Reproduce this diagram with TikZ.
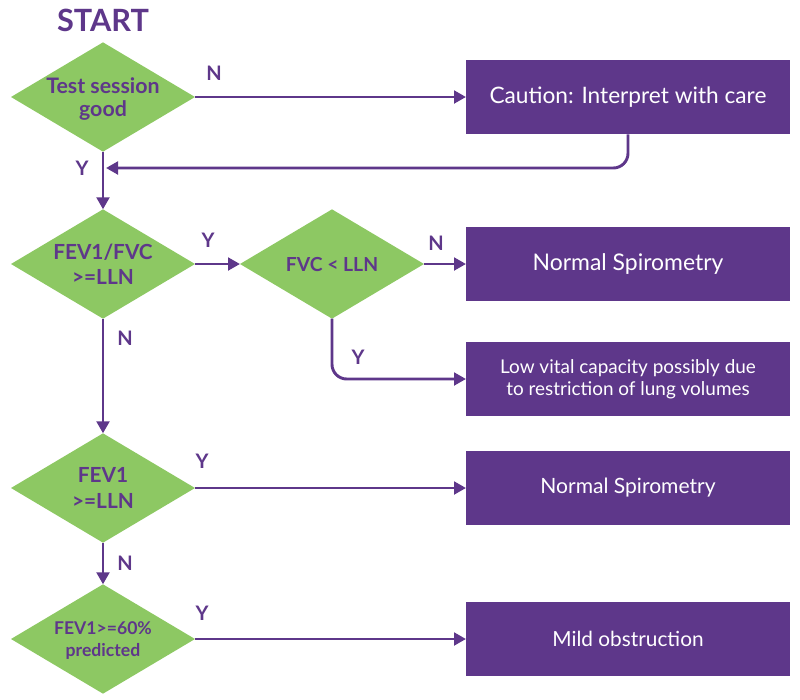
\documentclass[tikz,border=0pt]{standalone}
\usepackage{fontspec}
\setmainfont{Lato}
\usetikzlibrary{arrows.meta,shapes.geometric}
\definecolor{spiropurple}{HTML}{5E378A}
\definecolor{spirogreen}{HTML}{8DC863}
\tikzset{
    question/.style={diamond,aspect=1.69,fill=spirogreen,text=spiropurple,font=\bfseries\fontsize{16}{17.5}\selectfont,
        align=center,inner sep=0pt,outer sep=0pt,text depth=0pt,minimum width=138pt,minimum height=82pt},
    outcome/.style={rectangle,fill=spiropurple,text=white,font=\fontsize{17}{17}\selectfont,
        align=center,inner sep=0pt,outer sep=0pt,minimum width=243pt,minimum height=56pt},
    yn/.style={text=spiropurple,font=\bfseries\fontsize{15}{15}\selectfont},
    flow/.style={draw=spiropurple,line width=2.2pt,-{Triangle[length=9pt,width=9.5pt]}}
}

\begin{document}
\begin{tikzpicture}[x=0.75pt,y=-0.75pt]
    \useasboundingbox (0,0) rectangle (800,700);
    \node[text=spiropurple,font=\bfseries\fontsize{23}{23}\selectfont] (start) at (103,20) {START};
    \node[question] (session) at (103,97) {Test session\\good};
    \node[outcome] (caution) at (628,97) {Caution: Interpret with care};
    \node[question,font=\bfseries\fontsize{15.6}{19}\selectfont] (ratio) at (103,264) {FEV1/FVC\\>=LLN};
    \node[question,font=\bfseries\fontsize{14.5}{19}\selectfont] (fvc) at (332,264) {FVC < LLN};
    \node[outcome,font=\fontsize{17.2}{17}\selectfont] (normalA) at (628,264) {Normal Spirometry};
    \node[outcome,font=\fontsize{14.2}{16.5}\selectfont] (lowvc) at (628,379) {Low vital capacity possibly due\\to restriction of lung volumes};
    \node[question,font=\bfseries\fontsize{15.6}{19}\selectfont] (fev) at (103,488) {FEV1\\>=LLN};
    \node[outcome,font=\fontsize{15.8}{16}\selectfont] (normalB) at (628,488) {Normal Spirometry};
    \node[question,font=\bfseries\fontsize{13.2}{16}\selectfont] (sixty) at (103,639) {FEV1>=60\%\\predicted};
    \node[outcome,font=\fontsize{15.6}{16}\selectfont] (mild) at (628,639) {Mild obstruction};
    \coordinate (back) at (106,168);

    \draw[flow] (session.east) -- (caution.west);
    \draw[flow,rounded corners=11pt] (caution.south) |- (back);
    \draw[flow] (session.south) -- (ratio.north);
    \draw[flow] (ratio.east) -- (fvc.west);
    \draw[flow] (fvc.east) -- (normalA.west);
    \draw[flow,rounded corners=11pt] (fvc.south) |- (lowvc.west);
    \draw[flow] (ratio.south) -- (fev.north);
    \draw[flow] (fev.east) -- (normalB.west);
    \draw[flow] (fev.south) -- (sixty.north);
    \draw[flow] (sixty.east) -- (mild.west);

    \node[yn] (nSession) at (214,73) {N};
    \node[yn] (ySession) at (82,168) {Y};
    \node[yn] (yRatio) at (208,240) {Y};
    \node[yn] (nFvc) at (436,243) {N};
    \node[yn] (yFvc) at (358,357) {Y};
    \node[yn] (nRatio) at (125,338) {N};
    \node[yn] (yFev) at (202,461) {Y};
    \node[yn] (nFev) at (125,563) {N};
    \node[yn] (ySixty) at (202,613) {Y};
\end{tikzpicture}
\end{document}
